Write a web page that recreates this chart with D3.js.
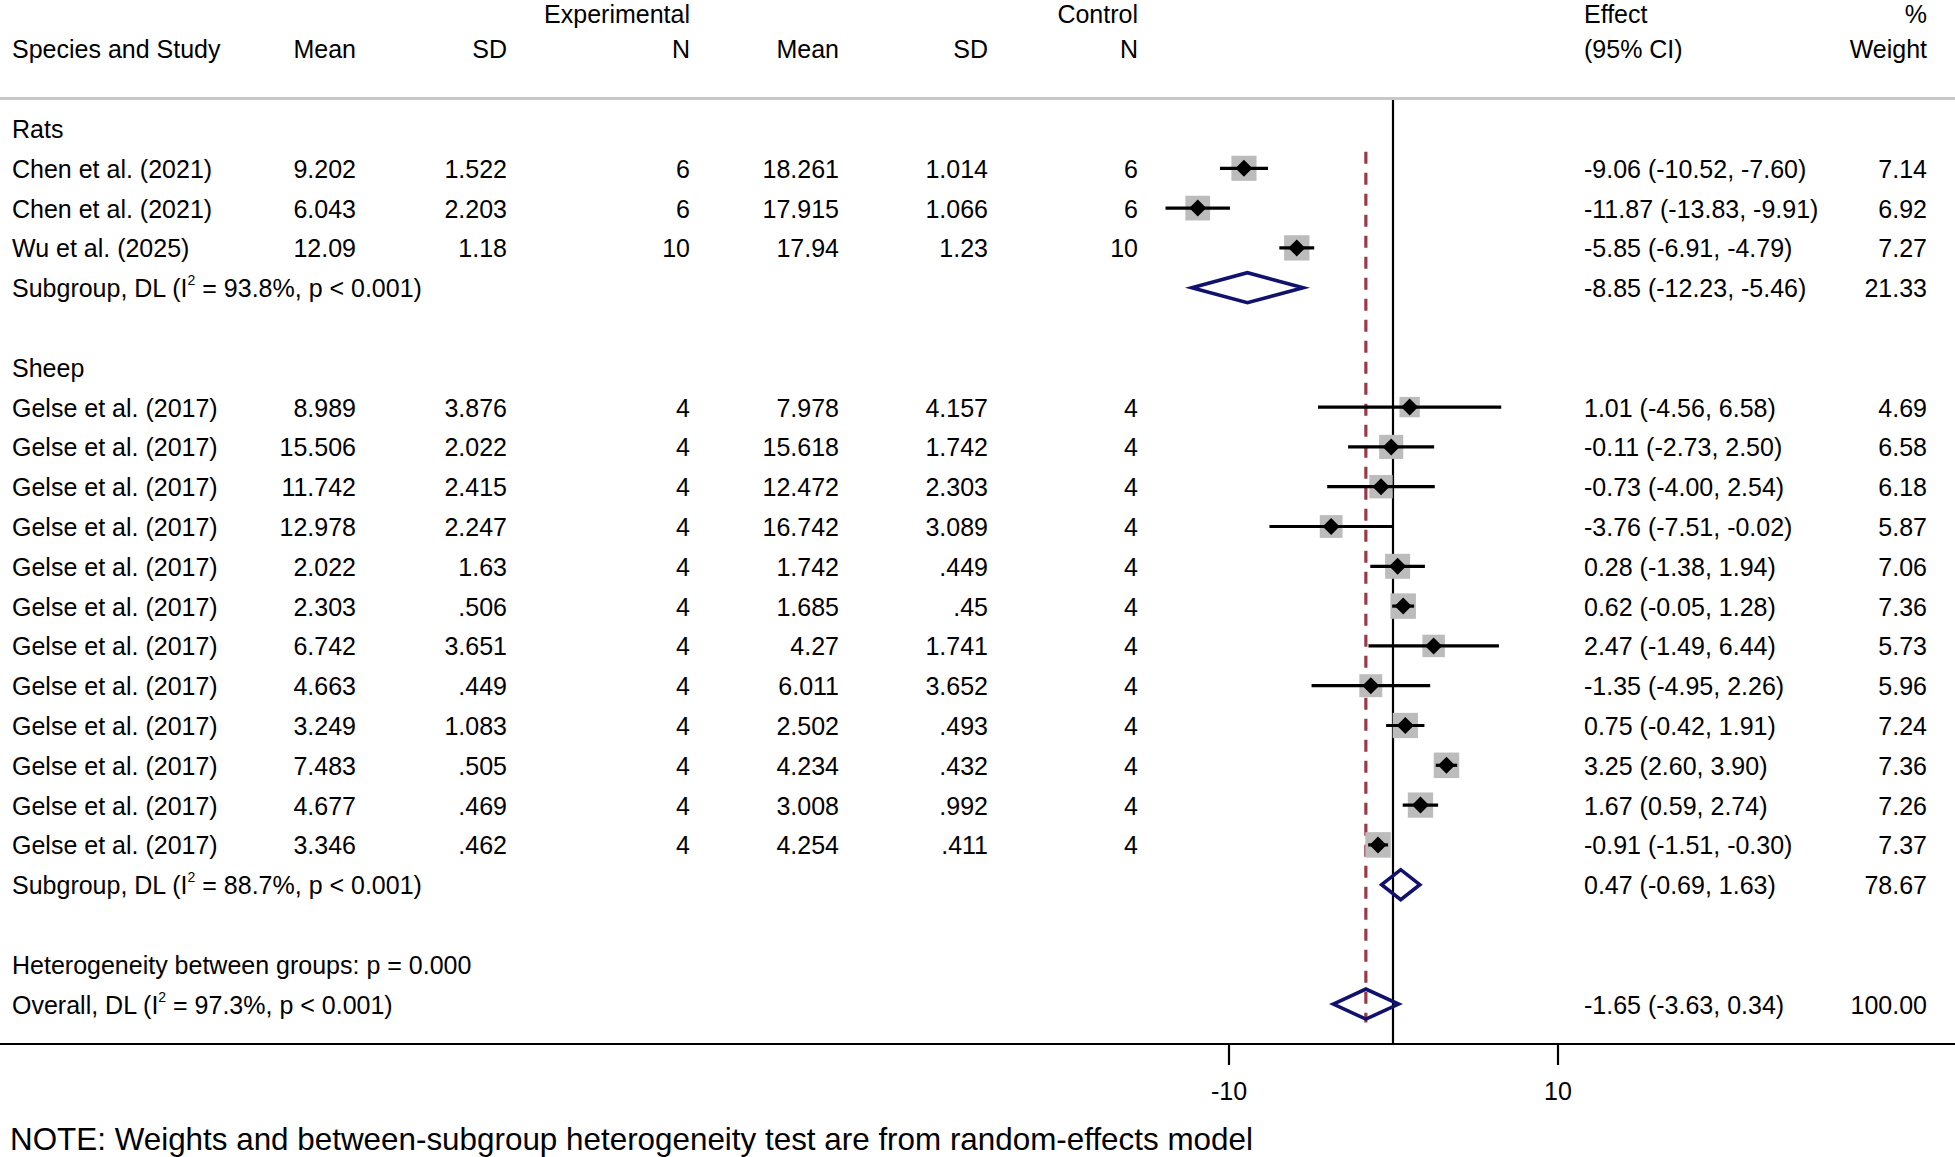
<!DOCTYPE html>
<html>
<head>
<meta charset="utf-8">
<script src="https://cdn.jsdelivr.net/npm/d3@7"></script>
<style>
  body { margin: 0; background: #fff; }
  svg text { font-family: "Liberation Sans", Arial, sans-serif; font-size: 25px; fill: #000; }
</style>
</head>
<body>
<div id="chart"></div>
<script>
// ---- data ----
var groupNames = ["Rats", "Sheep"];
var studyGroup = [0, 0, 0, 1, 1, 1, 1, 1, 1, 1, 1, 1, 1, 1, 1];
var studyNames = ["Chen et al. (2021)", "Chen et al. (2021)", "Wu et al. (2025)",
    "Gelse et al. (2017)", "Gelse et al. (2017)", "Gelse et al. (2017)", "Gelse et al. (2017)",
    "Gelse et al. (2017)", "Gelse et al. (2017)", "Gelse et al. (2017)", "Gelse et al. (2017)",
    "Gelse et al. (2017)", "Gelse et al. (2017)", "Gelse et al. (2017)", "Gelse et al. (2017)"];
var expMean = [9.202, 6.043, 12.09, 8.989, 15.506, 11.742, 12.978, 2.022, 2.303, 6.742, 4.663, 3.249, 7.483, 4.677, 3.346];
var expSD = [1.522, 2.203, 1.18, 3.876, 2.022, 2.415, 2.247, 1.63, 0.506, 3.651, 0.449, 1.083, 0.505, 0.469, 0.462];
var expN = [6, 6, 10, 4, 4, 4, 4, 4, 4, 4, 4, 4, 4, 4, 4];
var ctrlMean = [18.261, 17.915, 17.94, 7.978, 15.618, 12.472, 16.742, 1.742, 1.685, 4.27, 6.011, 2.502, 4.234, 3.008, 4.254];
var ctrlSD = [1.014, 1.066, 1.23, 4.157, 1.742, 2.303, 3.089, 0.449, 0.45, 1.741, 3.652, 0.493, 0.432, 0.992, 0.411];
var ctrlN = [6, 6, 10, 4, 4, 4, 4, 4, 4, 4, 4, 4, 4, 4, 4];
var effect = [-9.06, -11.87, -5.85, 1.01, -0.11, -0.73, -3.76, 0.28, 0.62, 2.47, -1.35, 0.75, 3.25, 1.67, -0.91];
var lower = [-10.52, -13.83, -6.91, -4.56, -2.73, -4.00, -7.51, -1.38, -0.05, -1.49, -4.95, -0.42, 2.60, 0.59, -1.51];
var upper = [-7.60, -9.91, -4.79, 6.58, 2.50, 2.54, -0.02, 1.94, 1.28, 6.44, 2.26, 1.91, 3.90, 2.74, -0.30];
var weight = [7.14, 6.92, 7.27, 4.69, 6.58, 6.18, 5.87, 7.06, 7.36, 5.73, 5.96, 7.24, 7.36, 7.26, 7.37];

var subEffect = [-8.85, 0.47];
var subLower = [-12.23, -0.69];
var subUpper = [-5.46, 1.63];
var subWeight = [21.33, 78.67];
var subI2 = ["93.8%", "88.7%"];
var subP = ["p < 0.001", "p < 0.001"];

var betweenP = "0.000";
var overallEffect = -1.65, overallLower = -3.63, overallUpper = 0.34, overallWeight = 100;
var overallI2 = "97.3%", overallP = "p < 0.001";

var tickValues = [-10, 10];
var noteText = "NOTE: Weights and between-subgroup heterogeneity test are from random-effects model";

// ---- layout ----
var width = 1955, height = 1157;
var rowStep = 39.8, firstBase = 138;
var colRight = { expMean: 356, expSD: 507, expN: 690, ctrlMean: 839, ctrlSD: 988, ctrlN: 1138, weight: 1927 };
var effectLeft = 1584, studyLeft = 12;
var axisY = 1044;

function baseY(i) { return firstBase + i * rowStep; }
function num(v) { return String(v).replace(/^0\./, "."); }
function ci(e, l, u) { return e.toFixed(2) + " (" + l.toFixed(2) + ", " + u.toFixed(2) + ")"; }

// build the list of table rows
var rows = [];
groupNames.forEach(function (g, gi) {
    rows.push({ type: "group", label: g });
    studyNames.forEach(function (s, i) {
        if (studyGroup[i] === gi) rows.push({ type: "study", i: i });
    });
    rows.push({ type: "sub", g: gi });
    rows.push({ type: "blank" });
});
rows.push({ type: "between" });
rows.push({ type: "overall" });

var x = d3.scaleLinear().domain([-10, 10]).range([1228.5, 1557.5]);
var box = d3.scaleSqrt().domain([0, 7.37]).range([0, 25.5]);

var svg = d3.select("#chart").append("svg")
    .attr("width", width)
    .attr("height", height);

// header
var head = svg.append("g");
function headText(txt, xx, y, anchor) {
    head.append("text").attr("x", xx).attr("y", y).attr("text-anchor", anchor).text(txt);
}
headText("Experimental", colRight.expN, 23, "end");
headText("Control", colRight.ctrlN, 23, "end");
headText("Effect", effectLeft, 23, "start");
headText("%", colRight.weight, 23, "end");
headText("Species and Study", studyLeft, 58, "start");
headText("Mean", colRight.expMean, 58, "end");
headText("SD", colRight.expSD, 58, "end");
headText("N", colRight.expN, 58, "end");
headText("Mean", colRight.ctrlMean, 58, "end");
headText("SD", colRight.ctrlSD, 58, "end");
headText("N", colRight.ctrlN, 58, "end");
headText("(95% CI)", effectLeft, 58, "start");
headText("Weight", colRight.weight, 58, "end");

svg.append("line")
    .attr("x1", 0).attr("x2", width)
    .attr("y1", 98.5).attr("y2", 98.5)
    .attr("stroke", "#c8c8c8").attr("stroke-width", 3);

// no-effect line
svg.append("line")
    .attr("x1", x(0)).attr("x2", x(0))
    .attr("y1", 100).attr("y2", axisY)
    .attr("stroke", "#000").attr("stroke-width", 2.2);

// overall effect dashed line
var overallRow = rows.length - 1;
svg.append("line")
    .attr("x1", x(overallEffect)).attr("x2", x(overallEffect))
    .attr("y1", baseY(1) - 26).attr("y2", baseY(overallRow) + 9)
    .attr("stroke", "#9b3a47").attr("stroke-width", 3.2)
    .attr("stroke-dasharray", "12,9");

// label with superscript I^2
function statLabel(sel, prefix, i2, p) {
    var t = sel.append("text").attr("x", studyLeft);
    t.append("tspan").text(prefix + " (I");
    t.append("tspan").attr("dy", -12).style("font-size", "14px").text("2");
    t.append("tspan").attr("dy", 12).text(" = " + i2 + ", " + p + ")");
    return t;
}

function diamond(g, cy, e, l, u) {
    var h = 15;
    g.append("path")
        .attr("d", "M" + x(l) + "," + cy + "L" + x(e) + "," + (cy - h) +
            "L" + x(u) + "," + cy + "L" + x(e) + "," + (cy + h) + "Z")
        .attr("fill", "none")
        .attr("stroke", "#11116e")
        .attr("stroke-width", 3.6)
        .attr("stroke-linejoin", "miter");
}

rows.forEach(function (r, ri) {
    var y = baseY(ri), cy = y - 9.5;
    var g = svg.append("g");
    if (r.type === "group") {
        g.append("text").attr("x", studyLeft).attr("y", y).text(r.label);
    } else if (r.type === "study") {
        var i = r.i;
        g.append("text").attr("x", studyLeft).attr("y", y).text(studyNames[i]);
        [["expMean", expMean], ["expSD", expSD], ["expN", expN],
         ["ctrlMean", ctrlMean], ["ctrlSD", ctrlSD], ["ctrlN", ctrlN]].forEach(function (c) {
            g.append("text").attr("x", colRight[c[0]]).attr("y", y)
                .attr("text-anchor", "end").text(num(c[1][i]));
        });
        g.append("text").attr("x", effectLeft).attr("y", y).text(ci(effect[i], lower[i], upper[i]));
        g.append("text").attr("x", colRight.weight).attr("y", y)
            .attr("text-anchor", "end").text(weight[i].toFixed(2));
        var s = box(weight[i]);
        g.append("rect")
            .attr("x", x(effect[i]) - s / 2).attr("y", cy - s / 2)
            .attr("width", s).attr("height", s)
            .attr("fill", "#bcbcbc");
        g.append("line")
            .attr("x1", x(lower[i])).attr("x2", x(upper[i]))
            .attr("y1", cy).attr("y2", cy)
            .attr("stroke", "#000").attr("stroke-width", 3.2);
        var d = 8.5;
        g.append("path")
            .attr("d", "M" + (x(effect[i]) - d) + "," + cy + "L" + x(effect[i]) + "," + (cy - d) +
                "L" + (x(effect[i]) + d) + "," + cy + "L" + x(effect[i]) + "," + (cy + d) + "Z")
            .attr("fill", "#000");
    } else if (r.type === "sub") {
        var k = r.g;
        statLabel(g, "Subgroup, DL", subI2[k], subP[k]).attr("y", y);
        g.append("text").attr("x", effectLeft).attr("y", y).text(ci(subEffect[k], subLower[k], subUpper[k]));
        g.append("text").attr("x", colRight.weight).attr("y", y)
            .attr("text-anchor", "end").text(subWeight[k].toFixed(2));
        diamond(g, cy, subEffect[k], subLower[k], subUpper[k]);
    } else if (r.type === "between") {
        g.append("text").attr("x", studyLeft).attr("y", y)
            .text("Heterogeneity between groups: p = " + betweenP);
    } else if (r.type === "overall") {
        statLabel(g, "Overall, DL", overallI2, overallP).attr("y", y);
        g.append("text").attr("x", effectLeft).attr("y", y).text(ci(overallEffect, overallLower, overallUpper));
        g.append("text").attr("x", colRight.weight).attr("y", y)
            .attr("text-anchor", "end").text(overallWeight.toFixed(2));
        diamond(g, cy, overallEffect, overallLower, overallUpper);
    }
});

// x axis
var axis = svg.append("g")
    .attr("transform", "translate(0," + axisY + ")")
    .call(d3.axisBottom(x).tickValues(tickValues)
        .tickFormat(function (d) { return String(d); })
        .tickSize(21).tickPadding(17).tickSizeOuter(0));
axis.select(".domain").remove();
axis.selectAll(".tick line").attr("stroke", "#000").attr("stroke-width", 2.2);
axis.selectAll(".tick text")
    .style("font-family", "\"Liberation Sans\", Arial, sans-serif")
    .style("font-size", "25px").attr("fill", "#000");
svg.append("line")
    .attr("x1", 0).attr("x2", width)
    .attr("y1", axisY).attr("y2", axisY)
    .attr("stroke", "#000").attr("stroke-width", 2.2);

svg.append("text")
    .attr("x", 10).attr("y", 1150)
    .style("font-size", "31.4px")
    .text(noteText);
</script>
</body>
</html>
